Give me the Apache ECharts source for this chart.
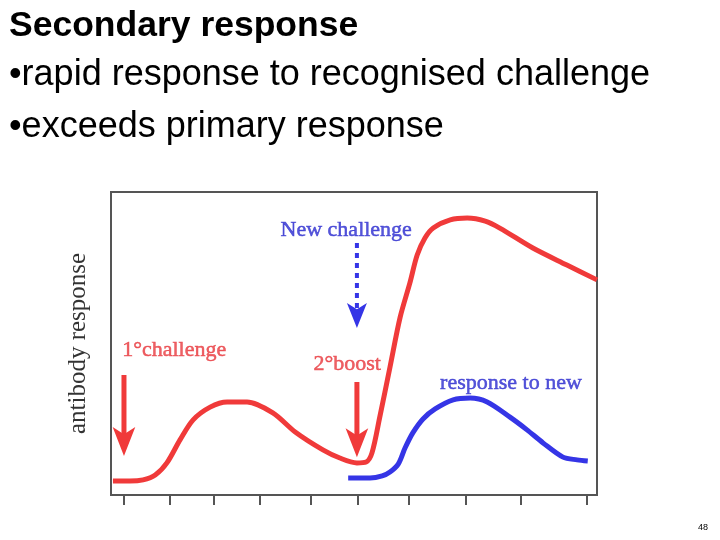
<!DOCTYPE html>
<html>
<head>
<meta charset="utf-8">
<script src="https://cdn.jsdelivr.net/npm/echarts@6/dist/echarts.min.js"></script>
<style>
  html, body { margin: 0; padding: 0; background: #fff; }
  #chart { width: 720px; height: 540px; }
</style>
</head>
<body>
<div id="chart"></div>
<script>
// ---- data (x: time, arbitrary units 0-100; y: antibody response, 0-100) ----
const primaryX   = [0.4, 3.9, 6.6, 9.1, 11.5, 14.2, 16.9, 20.4, 23.9, 28.0, 33.3, 37.9, 43.6, 47.1, 50.6, 52.5, 53.7, 55.3, 57.4, 59.5, 61.5, 63.0, 64.6, 66.3, 69.8, 73.3, 77.0, 80.0, 86.8, 93.8, 100];
const primaryY   = [4.6, 4.6, 5.0, 6.6, 10.6, 18.2, 24.8, 29.0, 30.7, 30.7, 27.1, 20.8, 14.9, 12.2, 10.6, 10.9, 13.9, 25.7, 42.2, 58.7, 70.0, 79.2, 84.8, 88.1, 90.8, 91.4, 90.4, 88.1, 81.5, 75.9, 71.0];
const newX       = [48.8, 53.3, 55.8, 57.4, 59.1, 60.5, 62.1, 64.2, 66.7, 70.4, 73.9, 77.4, 82.1, 85.6, 88.9, 93.0, 95.9, 98.1];
const newY       = [5.6, 5.6, 6.3, 7.6, 10.2, 15.5, 20.5, 25.1, 28.4, 31.4, 32.0, 30.7, 25.7, 21.5, 17.2, 12.5, 11.6, 11.2];
const tickValues = [2.67, 12.1, 21.2, 30.7, 41.2, 50.8, 61.3, 73.0, 84.4, 97.9];

// annotations
const labelTexts    = ['New challenge', '1°challenge', '2°boost', 'response to new'];
const labelX        = [48.4, 13.0, 48.6, 82.3];
const labelY        = [87.5, 47.9, 43.2, 37.0];
const arrowX        = [2.67, 50.6, 50.6];
const arrowFromY    = [39.6, 37.3, 83.2];
const arrowShaftToY = [17.5, 17.0, 59.5];
const arrowTipY     = [12.9, 12.5, 55.1];

const titleText   = 'Secondary response';
const bulletTexts = ['•rapid response to recognised challenge', '•exceeds primary response'];
const pageNumber  = '48';

const RED = '#f03a3a';
const BLUE = '#3535e6';
const RED_TXT = '#e8383d';
const BLUE_TXT = '#2c2cd0';

const chart = echarts.init(document.getElementById('chart'), null, { renderer: 'canvas' });

const zip = (xs, ys) => xs.map((x, i) => [x, ys[i]]);

const labelColors = [BLUE_TXT, RED_TXT, RED_TXT, BLUE_TXT];
const arrowColors = [RED, RED, BLUE];
const arrowDashed = [false, false, true];

const shaftSeries = arrowX.map((x, i) => ({
  type: 'line',
  silent: true,
  showSymbol: false,
  data: [[x, arrowFromY[i]], [x, arrowShaftToY[i]]],
  lineStyle: {
    color: arrowColors[i],
    width: arrowDashed[i] ? 4 : 5,
    type: arrowDashed[i] ? [5, 5] : 'solid',
    cap: 'butt'
  },
  z: 5
}));

const headSeries = {
  type: 'scatter',
  silent: true,
  symbol: 'arrow',
  symbolRotate: 180,
  data: arrowX.map((x, i) => ({
    value: [x, arrowTipY[i]],
    symbolSize: arrowDashed[i] ? [15, 25] : [17, 29],
    itemStyle: { color: arrowColors[i], opacity: 1 }
  })),
  z: 6
};

chart.setOption({
  animation: false,
  backgroundColor: '#fff',
  title: [
    {
      text: titleText,
      left: 4, top: 3,
      textStyle: { fontFamily: 'Liberation Sans, Arial, sans-serif', fontWeight: 'bold', fontSize: 35.5, color: '#000' }
    },
    {
      text: bulletTexts[0],
      left: 4, top: 52,
      textStyle: { fontFamily: 'Liberation Sans, Arial, sans-serif', fontWeight: 'normal', fontSize: 36, color: '#000' }
    },
    {
      text: bulletTexts[1],
      left: 4, top: 104,
      textStyle: { fontFamily: 'Liberation Sans, Arial, sans-serif', fontWeight: 'normal', fontSize: 36, color: '#000' }
    },
    {
      text: pageNumber,
      left: 693, top: 518,
      textStyle: { fontFamily: 'Liberation Sans, Arial, sans-serif', fontWeight: 'normal', fontSize: 9, color: '#000' }
    }
  ],
  grid: {
    left: 111, right: 123, top: 192, bottom: 45,
    show: true, borderColor: '#555', borderWidth: 2, backgroundColor: '#fff'
  },
  xAxis: {
    type: 'value', min: 0, max: 100,
    axisLine: { show: false },
    axisTick: { show: true, customValues: tickValues, length: 10, inside: false, lineStyle: { color: '#555', width: 2 } },
    axisLabel: { show: false },
    splitLine: { show: false }
  },
  yAxis: {
    type: 'value', min: 0, max: 100,
    name: 'antibody response',
    nameLocation: 'middle',
    nameRotate: 90,
    nameGap: 20,
    nameTextStyle: { fontFamily: 'Liberation Serif, Times New Roman, serif', fontSize: 25, color: '#333' },
    axisLine: { show: false },
    axisTick: { show: false },
    axisLabel: { show: false },
    splitLine: { show: false }
  },
  series: [
    {
      type: 'line', name: 'primary / secondary',
      data: zip(primaryX, primaryY),
      smooth: 0.3,
      showSymbol: false,
      lineStyle: { color: RED, width: 5, cap: 'butt', join: 'round' },
      z: 3
    },
    {
      type: 'line', name: 'response to new',
      data: zip(newX, newY),
      smooth: 0.3,
      showSymbol: false,
      lineStyle: { color: BLUE, width: 5, cap: 'butt', join: 'round' },
      z: 3
    },
    ...shaftSeries,
    headSeries,
    {
      type: 'scatter',
      silent: true,
      symbolSize: 0,
      data: labelTexts.map((t, i) => ({
        value: [labelX[i], labelY[i]],
        name: t,
        label: { color: labelColors[i], textBorderColor: labelColors[i] }
      })),
      label: {
        show: true,
        position: 'inside',
        formatter: p => p.name,
        fontFamily: 'Liberation Serif, Times New Roman, serif',
        fontSize: 22,
        textBorderWidth: 0.5
      },
      z: 7
    }
  ]
});
</script>
</body>
</html>
